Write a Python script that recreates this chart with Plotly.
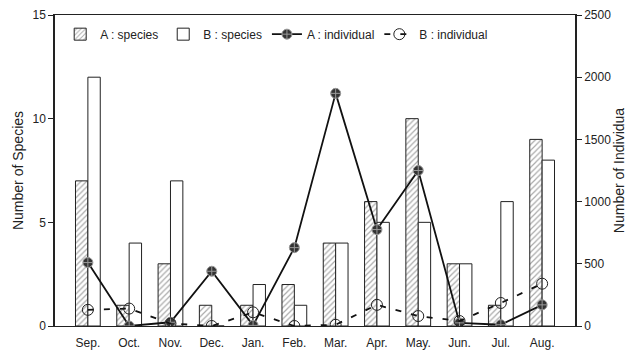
import plotly.graph_objects as go

months = ["Sep.", "Oct.", "Nov.", "Dec.", "Jan.", "Feb.", "Mar.", "Apr.", "May.", "Jun.", "Jul.", "Aug."]
a_species = [7, 1, 3, 1, 1, 2, 4, 6, 10, 3, 1, 9]
b_species = [12, 4, 7, 0, 2, 1, 4, 5, 5, 3, 6, 8]
a_individual = [510, 0, 30, 440, 5, 630, 1870, 775, 1250, 25, 10, 170]
b_individual = [130, 140, 20, 0, 110, 0, 10, 170, 80, 40, 185, 340]

font = dict(family="Liberation Sans, Arial, sans-serif", size=12, color="#222")

fig = go.Figure()
fig.add_trace(go.Bar(
    x=months, y=a_species, name="A : species", yaxis="y",
    marker=dict(color="white", line=dict(color="#222", width=1),
                pattern=dict(shape="/", fgcolor="#555", bgcolor="white", size=4, solidity=0.3)),
))
fig.add_trace(go.Bar(
    x=months, y=b_species, name="B : species", yaxis="y",
    marker=dict(color="white", line=dict(color="#222", width=1)),
))
fig.add_trace(go.Scatter(
    x=months, y=a_individual, name="A : individual", yaxis="y2", mode="lines+markers",
    line=dict(color="#111", width=1.8),
    marker=dict(symbol="circle-cross", size=10, color="#333", line=dict(color="#999", width=1)),
))
fig.add_trace(go.Scatter(
    x=months, y=b_individual, name="B : individual", yaxis="y2", mode="lines+markers",
    line=dict(color="#111", width=1.8, dash="6px,10px"),
    marker=dict(symbol="circle-open", size=11, color="#222", line=dict(width=1)),
))

fig.update_layout(
    width=641, height=356,
    margin=dict(l=55, r=66, t=15, b=30),
    paper_bgcolor="white", plot_bgcolor="white",
    font=font,
    barmode="group", bargap=0.4, bargroupgap=0,
    showlegend=True,
    legend=dict(orientation="h", x=0.01, y=0.985, xanchor="left", yanchor="top",
                bgcolor="rgba(255,255,255,0)", font=dict(size=12), tracegroupgap=0,
                itemwidth=30),
    xaxis=dict(showline=True, linecolor="#222", linewidth=1, mirror=True, ticks="",
               showgrid=False, tickfont=dict(size=12), ticklabelstandoff=6, automargin=False),
    yaxis=dict(range=[0, 15], dtick=5, showline=True, linecolor="#222", linewidth=1.5,
               ticks="outside", ticklen=5, tickcolor="#222", showgrid=False, zeroline=False,
               title=dict(text="Number of Species", standoff=6), automargin=False),
    yaxis2=dict(range=[0, 2500], dtick=500, overlaying="y", side="right", showline=True,
                linecolor="#222", linewidth=1.5, ticks="outside", ticklen=5, tickcolor="#222",
                showgrid=False, zeroline=False, automargin=False,
                title=dict(text="Number of Individua", standoff=4)),
)

fig.write_html("out.html", config={"displayModeBar": False},
               post_script="document.body.style.margin='0';document.body.style.padding='0';")
